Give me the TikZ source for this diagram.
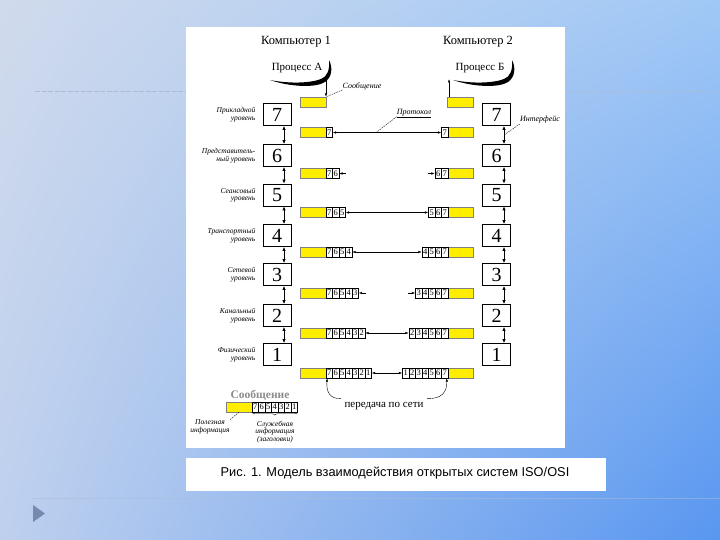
\documentclass[tikz,border=0pt]{standalone}
\usepackage{fontspec}
\setmainfont{Liberation Serif}
\setsansfont{Liberation Sans}
\usetikzlibrary{arrows.meta,calc,positioning,decorations.pathreplacing,shadings}

\definecolor{slideUL}{RGB}{208,218,236}
\definecolor{slideUR}{RGB}{160,200,246}
\definecolor{slideLL}{RGB}{190,208,238}
\definecolor{slideLR}{RGB}{88,150,240}
\definecolor{slideLine}{RGB}{172,188,214}
\definecolor{bulletGray}{RGB}{118,138,176}
\definecolor{barYellow}{RGB}{255,238,0}
\newcommand{\fsz}[1]{\fontsize{#1}{#1}\selectfont}

\begin{document}
\begin{tikzpicture}[x=1pt,y=-1pt]
\tikzset{>={Latex[length=3.5pt,width=2.6pt]}, line width=0.5pt,
  layer/.style={draw, line width=0.8pt, fill=white, minimum width=28pt,
    minimum height=22pt, inner sep=0pt, font=\fsz{20}},
  msg/.style={draw=black!50, line width=0.3pt, fill=barYellow,
    minimum width=26pt, minimum height=10pt, inner sep=0pt},
  cell/.style={draw, line width=0.4pt, fill=white, minimum width=6.5pt,
    minimum height=10pt, inner sep=0pt, font=\fsz{8.5}},
  lvl/.style={font=\fsz{7.5}\itshape, align=right, inner sep=0pt},
  note/.style={font=\fsz{8}\itshape, inner sep=0pt},
  lead/.style={dash pattern=on 1.5pt off 1pt, line width=0.4pt},
  iface/.style={<->, line width=0.9pt, >={Latex[length=4pt,width=3.5pt]}}}
\useasboundingbox (0,0) rectangle (720,540);

% slide
\shade[upper left=slideUL, upper right=slideUR, lower left=slideLL,
  lower right=slideLR] (0,0) rectangle (720,540);
\draw[slideLine, dash pattern=on 5pt off 1.5pt] (35,91) -- (720,91);
\draw[slideLine, opacity=0.5, line width=0.6pt] (32,498) -- (720,498);
\fill[bulletGray] (33,505) -- (45,513.5) -- (33,522) -- cycle;
\fill[white] (186,27) rectangle (565,448);
\fill[white] (186,458) rectangle (606,491);
\node[font=\sffamily\fsz{12.8}] (cap) at (395,473)
  {Рис. 1. Модель взаимодействия открытых систем ISO/OSI};

% computers and processes
\node[font=\fsz{12.5}] (comp1) at (296,42) {Компьютер 1};
\node[font=\fsz{12.5}] (comp2) at (478,42) {Компьютер 2};
\node[font=\fsz{11}] (procA) at (297,68) {Процесс А};
\node[font=\fsz{11}] (procB) at (480,68) {Процесс Б};
\foreach \s in {0,183}
  \fill[xshift=\s pt] (270,80) .. controls (290,87) and (316,88) .. (325,82)
    .. controls (332,77) and (333,68) .. (329,60)
    .. controls (330,70) and (327,77) .. (321,79)
    .. controls (311,83) and (290,84) .. cycle;
\node[msg] (ma) at (313,102) {};
\node[msg] (mb) at (460.5,102) {};
\coordinate (aTip) at (326,78);
\coordinate (bTip) at (449,79);
\draw[->] (aTip) -- (aTip |- ma.north);
\draw[->] (bTip |- mb.north) -- (bTip);
\node[note] (msgLab) at (362,86) {Сообщение};
\draw[lead] (msgLab.south west) -- (ma.north east);

% layers
\foreach \k/\y/\a/\b in {7/114.5/Прикладной/уровень,
    6/155.5/Представитель-/ный уровень, 5/195/Сеансовый/уровень,
    4/235.5/Транспортный/уровень, 3/274.5/Сетевой/уровень,
    2/315.5/Канальный/уровень, 1/354.5/Физический/уровень} {
  \node[layer] (L\k) at (277,\y) {\k};
  \node[layer] (R\k) at (496.5,\y) {\k};
  \node[lvl, left=7pt of L\k] (lab\k) {\a\\\b};
}
\foreach \a/\b in {7/6,6/5,5/4,4/3,3/2,2/1} {
  \draw[iface] ([xshift=7pt]L\a.south) -- ([xshift=7pt]L\b.north);
  \draw[iface] ([xshift=7.5pt]R\a.south) -- ([xshift=7.5pt]R\b.north);
}

% headers
\foreach \k/\y in {7/132.5,6/173.5,5/212.5,4/252,3/293,2/333,1/373} {
  \node[msg] (ly\k) at (313,\y) {};
  \node[msg] (ry\k) at (460.5,\y) {};
  \foreach \d in {\k,...,7} {
    \node[cell] (lc\k\d) at ({329.25+(7-\d)*6.5},\y) {\d};
    \node[cell] (rc\k\d) at ({444.75-(7-\d)*6.5},\y) {\d};
  }
}
\foreach \k in {7,5,4,2,1}
  \draw[<->] (lc\k\k.east) -- (rc\k\k.west);
\foreach \k in {6,3} {
  \draw[<-] (lc\k\k.east) -- ++(7,0);
  \draw[<-] (rc\k\k.west) -- ++(-7,0);
}
\coordinate (p7) at ($(lc77.east)!0.4!(rc77.west)$);
\node[note] (proto) at (414,113) {Протокол};
\draw (proto.south west) -- (proto.south east);
\draw[lead] (proto.south west) -- (p7);
\coordinate (i76) at ($([xshift=7.5pt]R7.south)!0.5!([xshift=7.5pt]R6.north)$);
\node[note] (iface) at (540,120) {Интерфейс};
\draw[lead] (iface.south west) -- (i76);

% network
\node[font=\fsz{11}] (net) at (384,406) {передача по сети};
\draw[<-] ([xshift=-2pt]lc17.south) .. controls (326,392) and (330,399)
  .. (net.north west);
\draw[<-] ([xshift=2pt]rc17.south) .. controls (447,392) and (442,399)
  .. (net.north east);

% legend
\node[font=\fsz{11.5}\bfseries, text=black!45] (lgT) at (260,395) {Сообщение};
\node[msg] (lgY) at (239,407) {};
\foreach \d in {1,...,7}
  \node[cell] (lg\d) at ({255.25+(7-\d)*6.5},407) {\d};
\draw[decorate, decoration={brace, mirror, amplitude=3pt}]
  (lg7.south west) -- (lg1.south east);
\node[note, align=center, font=\fsz{7.5}\itshape] (useful) at (210,427)
  {Полезная\\информация};
\node[note, align=center, font=\fsz{7.5}\itshape] (service) at (275,432)
  {Служебная\\информация\\(заголовки)};
\draw[lead] (lgY.south) -- (useful.north east);
\end{tikzpicture}
\end{document}
